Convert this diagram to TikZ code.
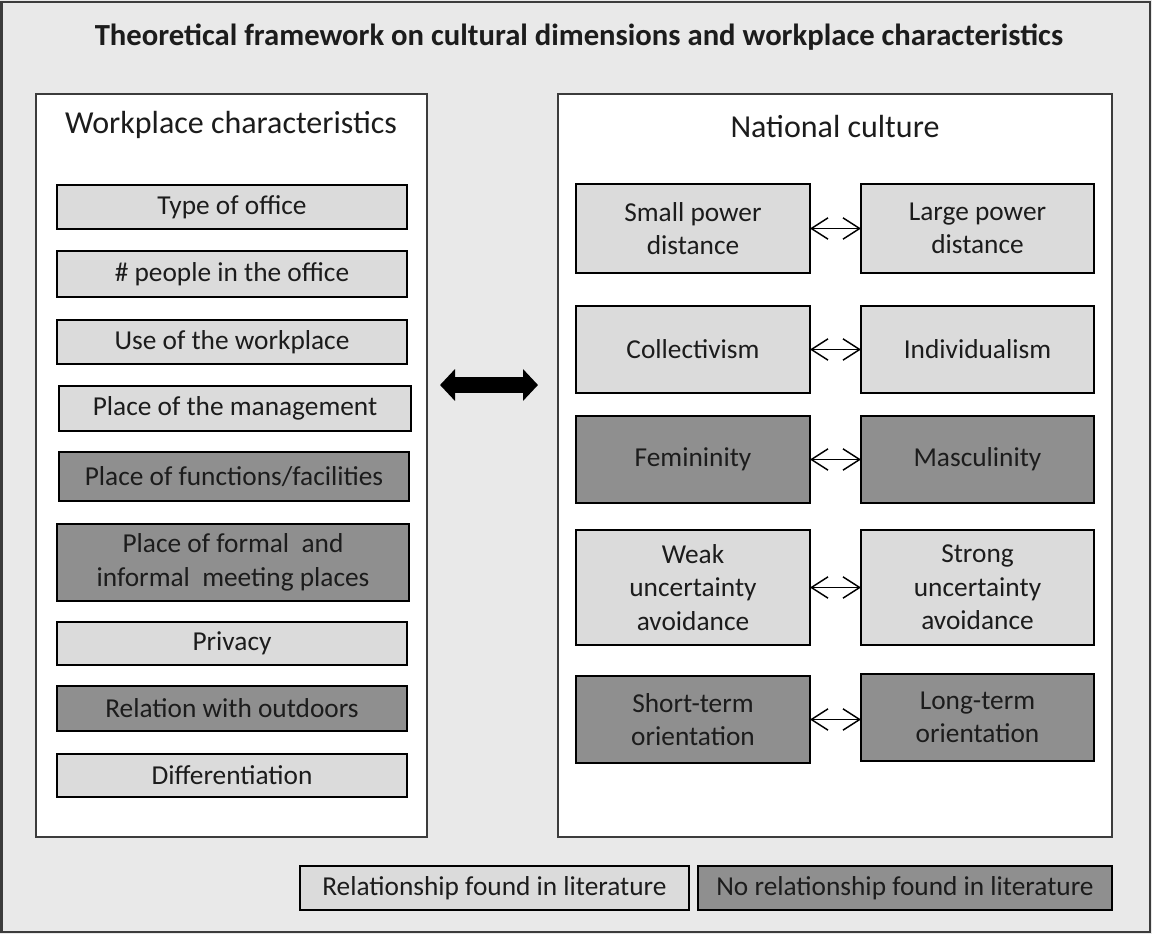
\documentclass[tikz,border=0pt]{standalone}
\usepackage{fontspec}
\setmainfont{Carlito}
\usetikzlibrary{arrows.meta}

\definecolor{bgGrey}{HTML}{E9E9E9}
\definecolor{lightBox}{HTML}{DBDBDB}
\definecolor{darkBox}{HTML}{8F8F8F}
\definecolor{frameGrey}{HTML}{3C3C3C}
\definecolor{inkDark}{HTML}{1C1C1C}

% box given by its corners (pixel grid): name, style, x1, y1, x2, y2, text
\newcommand\cornerbox[7]{%
  \node[#2, minimum width={(#5-#3)*0.75pt}, minimum height={(#6-#4)*0.75pt}]
    (#1) at ({(#3+#5)/2},{(#4+#6)/2}) {#7};}

\begin{document}
\begin{tikzpicture}[x=0.75pt,y=-0.75pt,
  every node/.style={inner sep=0pt, outer sep=0pt, text=inkDark},
  bodytext/.style={font=\fontsize{20.5}{25}\selectfont, align=center},
  panel/.style={draw=frameGrey, line width=1.5pt, fill=white},
  litbox/.style={draw=black, line width=1.1pt, fill=lightBox, bodytext},
  nolitbox/.style={litbox, fill=darkBox},
  heading/.style={font=\fontsize{24}{29}\selectfont},
  titletext/.style={font=\fontsize{23}{28}\selectfont\bfseries},
  pairlink/.style={draw=black, line width=1.1pt,
    {Straight Barb[length=12.5pt,width=16pt]}-{Straight Barb[length=12.5pt,width=16pt]}},
  bigarrow/.style={draw=black, line width=12pt,
    {Triangle[length=11.25pt,width=23.25pt]}-{Triangle[length=11.25pt,width=23.25pt]}}
]
\useasboundingbox (0,0) rectangle (1152,934);
\fill[bgGrey] (0,0) rectangle (1152,934);
\draw[frameGrey, line width=1.5pt] (1.5,2) rectangle (1150,932);

\node[titletext] (title) at (579,37)
  {Theoretical framework on cultural dimensions and workplace characteristics};

% the two panels
\cornerbox{work}{panel}{36}{94}{427}{837}{}
\cornerbox{nat}{panel}{558}{94}{1112}{837}{}
\node[heading] (workhead) at (231,125) {Workplace characteristics};
\node[heading] (nathead) at (835,127) {National culture};

% workplace characteristics
\cornerbox{type}{litbox}{57}{185}{407}{229}{Type of office}
\cornerbox{people}{litbox}{57}{251}{407}{297}{\# people in the office}
\cornerbox{use}{litbox}{57}{320}{407}{364}{Use of the workplace}
\cornerbox{mgmt}{litbox}{59}{386}{411}{431}{Place of the management}
\cornerbox{func}{nolitbox}{59}{452}{409}{501}{Place of functions/facilities}
\cornerbox{meet}{nolitbox}{57}{524}{409}{601}{Place of formal\ \ and\\informal\ \ meeting places}
\cornerbox{privacy}{litbox}{57}{622}{407}{665}{Privacy}
\cornerbox{outdoors}{nolitbox}{57}{686}{407}{731}{Relation with outdoors}
\cornerbox{diff}{litbox}{57}{754}{407}{797}{Differentiation}

% national culture dimensions
\cornerbox{spd}{litbox}{576}{184}{810}{273}{Small power\\distance}
\cornerbox{lpd}{litbox}{861}{184}{1094}{273}{Large power\\distance}
\cornerbox{coll}{litbox}{576}{306}{810}{393}{Collectivism}
\cornerbox{indiv}{litbox}{861}{306}{1094}{393}{Individualism}
\cornerbox{fem}{nolitbox}{576}{416}{810}{503}{Femininity}
\cornerbox{masc}{nolitbox}{861}{416}{1094}{503}{Masculinity}
\cornerbox{wua}{litbox}{576}{530}{810}{645}{Weak\\uncertainty\\avoidance}
\cornerbox{sua}{litbox}{861}{530}{1094}{645}{Strong\\uncertainty\\avoidance}
\cornerbox{sto}{nolitbox}{576}{676}{810}{763}{Short-term\\orientation}
\cornerbox{lto}{nolitbox}{861}{674}{1094}{761}{Long-term\\orientation}

\draw[pairlink] (spd.east) -- (lpd.west);
\draw[pairlink] (coll.east) -- (indiv.west);
\draw[pairlink] (fem.east) -- (masc.west);
\draw[pairlink] (wua.east) -- (sua.west);
\draw[pairlink] (sto.east) -- (sto.east -| lto.west);

% link between the two panels
\coordinate (arrowrow) at (0,385);
\draw[bigarrow, shorten <=9.75pt, shorten >=15pt]
  (work.east |- arrowrow) -- (nat.west |- arrowrow);

% legend
\cornerbox{leglit}{litbox}{300}{866}{689}{910}{Relationship found in literature}
\cornerbox{legnolit}{nolitbox}{698}{866}{1112}{910}{No relationship found in literature}
\end{tikzpicture}
\end{document}
